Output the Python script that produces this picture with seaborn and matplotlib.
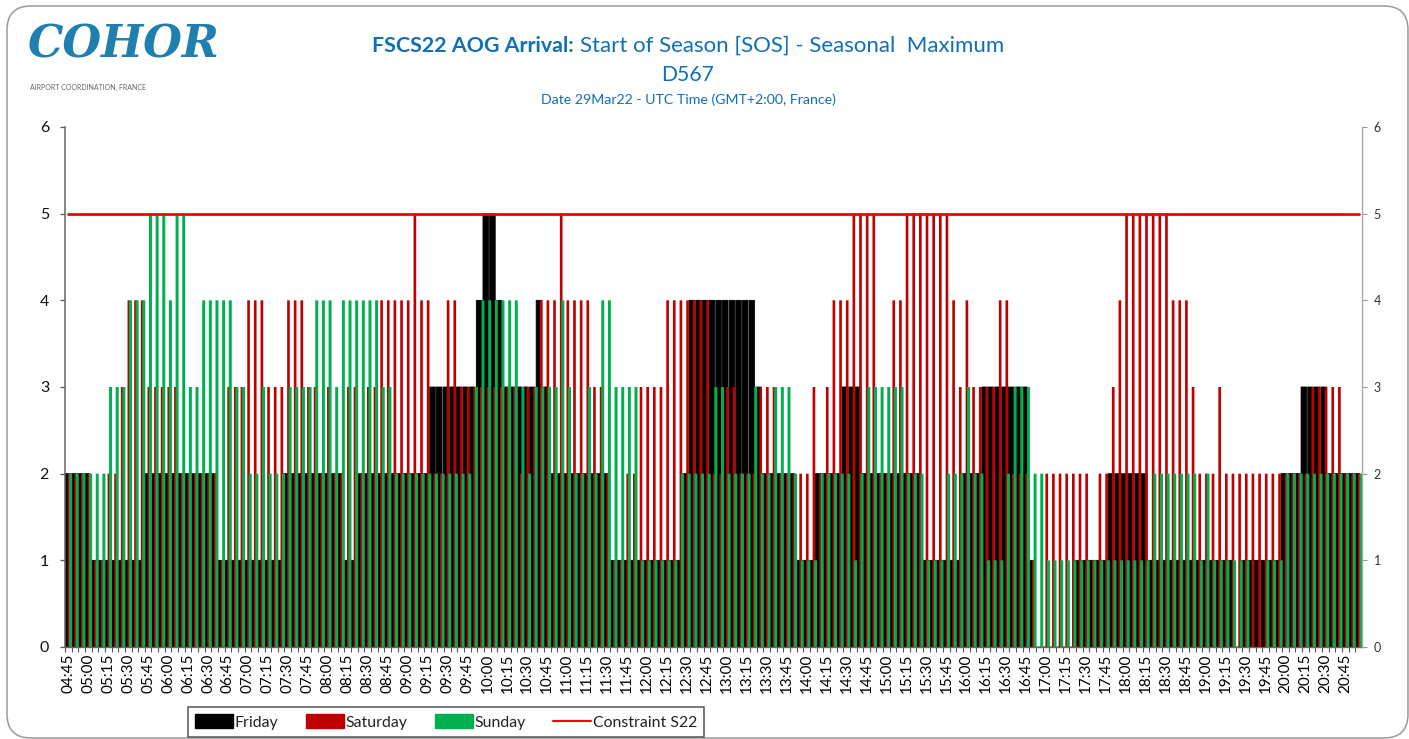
import numpy as np
import pandas as pd
import seaborn as sns
import matplotlib
matplotlib.use("Agg")
import matplotlib.pyplot as plt
from matplotlib.patches import Patch, FancyBboxPatch
from matplotlib.lines import Line2D
from matplotlib.transforms import IdentityTransform

friday = [
    2,2,2,2,1,1,1,1,1,1,1,1,
    2,2,2,2,2,2,2,2,2,2,2,1,
    1,1,1,1,1,1,1,1,1,2,2,2,
    2,2,2,2,2,2,1,1,2,2,2,2,
    2,2,2,2,2,2,2,3,3,3,3,3,
    3,3,4,5,5,4,3,3,3,3,3,4,
    3,2,2,2,2,2,2,2,2,2,1,1,
    1,1,1,1,1,1,1,1,1,2,4,4,
    4,4,4,4,4,4,4,4,3,2,2,2,
    2,2,1,1,1,2,2,2,2,3,3,3,
    2,2,2,2,2,2,2,2,2,1,1,1,
    1,1,1,2,2,2,3,3,3,3,3,3,
    3,1,0,0,0,0,0,0,1,1,1,1,
    1,2,2,2,2,2,2,1,1,1,1,1,
    1,1,1,1,1,1,1,1,0,1,1,1,
    1,1,1,2,2,2,3,3,3,3,2,2,
    2,2,2]
saturday = [
    2,2,2,2,1,1,2,2,3,4,4,4,
    3,3,3,3,3,2,2,2,2,2,2,1,
    3,3,3,4,4,4,3,3,3,4,4,4,
    3,3,2,3,2,2,3,3,2,3,3,4,
    4,4,4,4,5,4,4,2,2,4,4,3,
    3,3,3,3,3,3,3,3,2,3,3,4,
    4,4,5,4,4,4,4,3,3,2,1,1,
    2,2,3,3,3,3,4,4,4,4,4,4,
    4,2,2,3,3,2,2,2,3,3,3,2,
    2,2,2,2,3,2,3,4,4,4,5,5,
    5,5,2,2,4,4,5,5,5,5,5,5,
    5,4,3,4,3,3,3,3,4,4,2,2,
    2,1,0,2,2,2,2,2,2,2,1,2,
    2,3,4,5,5,5,5,5,5,5,4,4,
    4,3,2,2,2,3,2,2,2,2,2,2,
    2,2,2,2,2,2,2,3,3,3,3,3,
    2,2,2]
sunday = [
    2,2,2,2,2,2,3,3,3,4,4,4,
    5,5,5,4,5,5,3,3,4,4,4,4,
    4,3,3,2,2,3,2,2,2,3,3,3,
    3,4,4,4,3,4,4,4,4,4,4,3,
    3,2,2,2,2,2,2,2,2,2,2,2,
    2,3,4,4,4,4,4,4,3,2,3,3,
    3,3,4,3,2,2,3,2,4,4,3,3,
    3,3,1,1,1,1,1,1,2,2,2,2,
    2,3,3,2,2,2,2,3,2,2,3,3,
    3,2,1,1,1,2,2,2,2,2,1,2,
    3,3,3,3,3,3,2,2,2,1,1,1,
    2,2,2,3,2,2,1,1,1,2,3,3,
    3,2,2,1,1,1,1,1,1,1,1,1,
    1,1,1,1,1,1,1,2,2,2,2,2,
    2,2,1,2,1,1,1,1,1,1,0,0,
    1,1,1,2,2,2,2,2,2,2,2,2,
    2,2,2]
constraint = [5] * len(friday)
tick_labels = [
    "04:45","05:00","05:15","05:30","05:45","06:00","06:15","06:30","06:45",
    "07:00","07:15","07:30","07:45","08:00","08:15","08:30","08:45",
    "09:00","09:15","09:30","09:45","10:00","10:15","10:30","10:45",
    "11:00","11:15","11:30","11:45","12:00","12:15","12:30","12:45",
    "13:00","13:15","13:30","13:45","14:00","14:15","14:30","14:45",
    "15:00","15:15","15:30","15:45","16:00","16:15","16:30","16:45",
    "17:00","17:15","17:30","17:45","18:00","18:15","18:30","18:45",
    "19:00","19:15","19:30","19:45","20:00","20:15","20:30","20:45"]

BLACK, RED, GREEN, LINE = "#000000", "#C00000", "#00B050", "#FF0000"
BLUE = "#0F70B7"

sns.set_theme(style="white")
plt.rcParams["font.family"] = ["Lato", "DejaVu Sans"]

W, H = 1409, 739
fig = plt.figure(figsize=(W / 100, H / 100), dpi=100, facecolor="white")
ax = fig.add_axes([65 / W, 1 - 647 / H, (1362 - 65) / W, (647 - 127) / H])

idx = np.arange(len(friday))
sns.barplot(x=idx - 0.24, y=friday, native_scale=True, width=0.84, color=BLACK,
            saturation=1, errorbar=None, ax=ax, linewidth=0.6, edgecolor=BLACK, zorder=2)
sns.barplot(x=idx + 0.10, y=saturday, native_scale=True, width=0.40, color=RED,
            saturation=1, errorbar=None, ax=ax, linewidth=0, zorder=3)
sns.barplot(x=idx + 0.35, y=sunday, native_scale=True, width=0.45, color=GREEN,
            saturation=1, errorbar=None, ax=ax, linewidth=0, zorder=4)
sns.lineplot(x=idx, y=constraint, color=LINE, linewidth=2.0, ax=ax, zorder=5,
             errorbar=None, legend=False)
for patch in ax.patches:
    patch.set_snap(False)

ax.set_xlim(-0.5, len(friday) - 0.5)
ax.set_ylim(0, 6)
ax.set_yticks(range(7))
ax.set_xticks(np.arange(len(tick_labels)) * 3)
ax.set_xticklabels(tick_labels, rotation=90, fontsize=11, color="black")
ax.set_xticks(idx - 0.5, minor=True)
ax.tick_params(axis="x", which="major", length=0, pad=5, bottom=True)
ax.tick_params(axis="x", which="minor", length=3.5, width=0.8, color="#555555", bottom=True)
ax.tick_params(axis="y", length=3.5, width=0.9, color="#555555", labelsize=11.5,
               labelcolor="#111111", pad=8, left=True)
ax.set_xlabel("")
ax.set_ylabel("")
ax.grid(False)
for s in ("top", "right"):
    ax.spines[s].set_visible(False)
ax.spines["left"].set_color("#666666")
ax.spines["left"].set_linewidth(1.1)
ax.spines["bottom"].set_color("#666666")
ax.spines["bottom"].set_linewidth(1.0)

ax2 = ax.twinx()
ax2.set_ylim(0, 6)
ax2.set_yticks(range(7))
ax2.grid(False)
ax2.tick_params(axis="y", length=3.5, width=0.8, color="#999999", labelsize=9,
                labelcolor="#333333", pad=5, right=True)
for s in ("top", "left", "bottom"):
    ax2.spines[s].set_visible(False)
ax2.spines["right"].set_color("#aaaaaa")
ax2.spines["right"].set_linewidth(1.0)


def px(x, y):
    return x / W, 1 - y / H


# Panel frame
frame = FancyBboxPatch((7, 1), 1401, 732, boxstyle="round,pad=0,rounding_size=24",
                       transform=IdentityTransform(), fill=False, edgecolor="#9a9a9a",
                       linewidth=1.1, zorder=0)
fig.add_artist(frame)

# Logo as text
fig.text(*px(124, 45), "COHOR", family=["DejaVu Serif"], style="italic", weight="bold",
         fontsize=32, color="#1F7FAE", ha="center", va="center")
fig.text(*px(87.5, 87), "AIRPORT COORDINATION, FRANCE", fontsize=5.0, color="#666666",
         ha="center", va="center")

# Titles
fig.text(*px(372, 46), "FSCS22 AOG Arrival:", fontsize=15.4, weight="bold", color=BLUE,
         ha="left", va="center")
fig.text(*px(1004, 46), "Start of Season [SOS] - Seasonal  Maximum", fontsize=16.0,
         color=BLUE, ha="right", va="center")
fig.text(*px(688, 75), "D567", fontsize=15.2, color=BLUE, ha="center", va="center")
fig.text(*px(688, 100), "Date 29Mar22 - UTC Time (GMT+2:00, France)", fontsize=10.2,
         color=BLUE, ha="center", va="center")

# Legend
handles = [Patch(facecolor=BLACK, edgecolor=BLACK, label="Friday"),
           Patch(facecolor=RED, edgecolor=RED, label="Saturday"),
           Patch(facecolor=GREEN, edgecolor=GREEN, label="Sunday"),
           Line2D([0], [0], color=LINE, linewidth=1.5, label="Constraint S22")]
leg = fig.legend(handles=handles, loc="center", bbox_to_anchor=px(446, 722), ncol=4,
                 frameon=True, fancybox=False, edgecolor="#555555", facecolor="white",
                 fontsize=11.4, handlelength=2.4, handleheight=0.9, handletextpad=0.1,
                 columnspacing=1.75, borderpad=0.45, framealpha=1)
leg.get_frame().set_linewidth(1.1)
for t in leg.get_texts():
    t.set_color("#222222")

fig.savefig("out.png", dpi=100)
